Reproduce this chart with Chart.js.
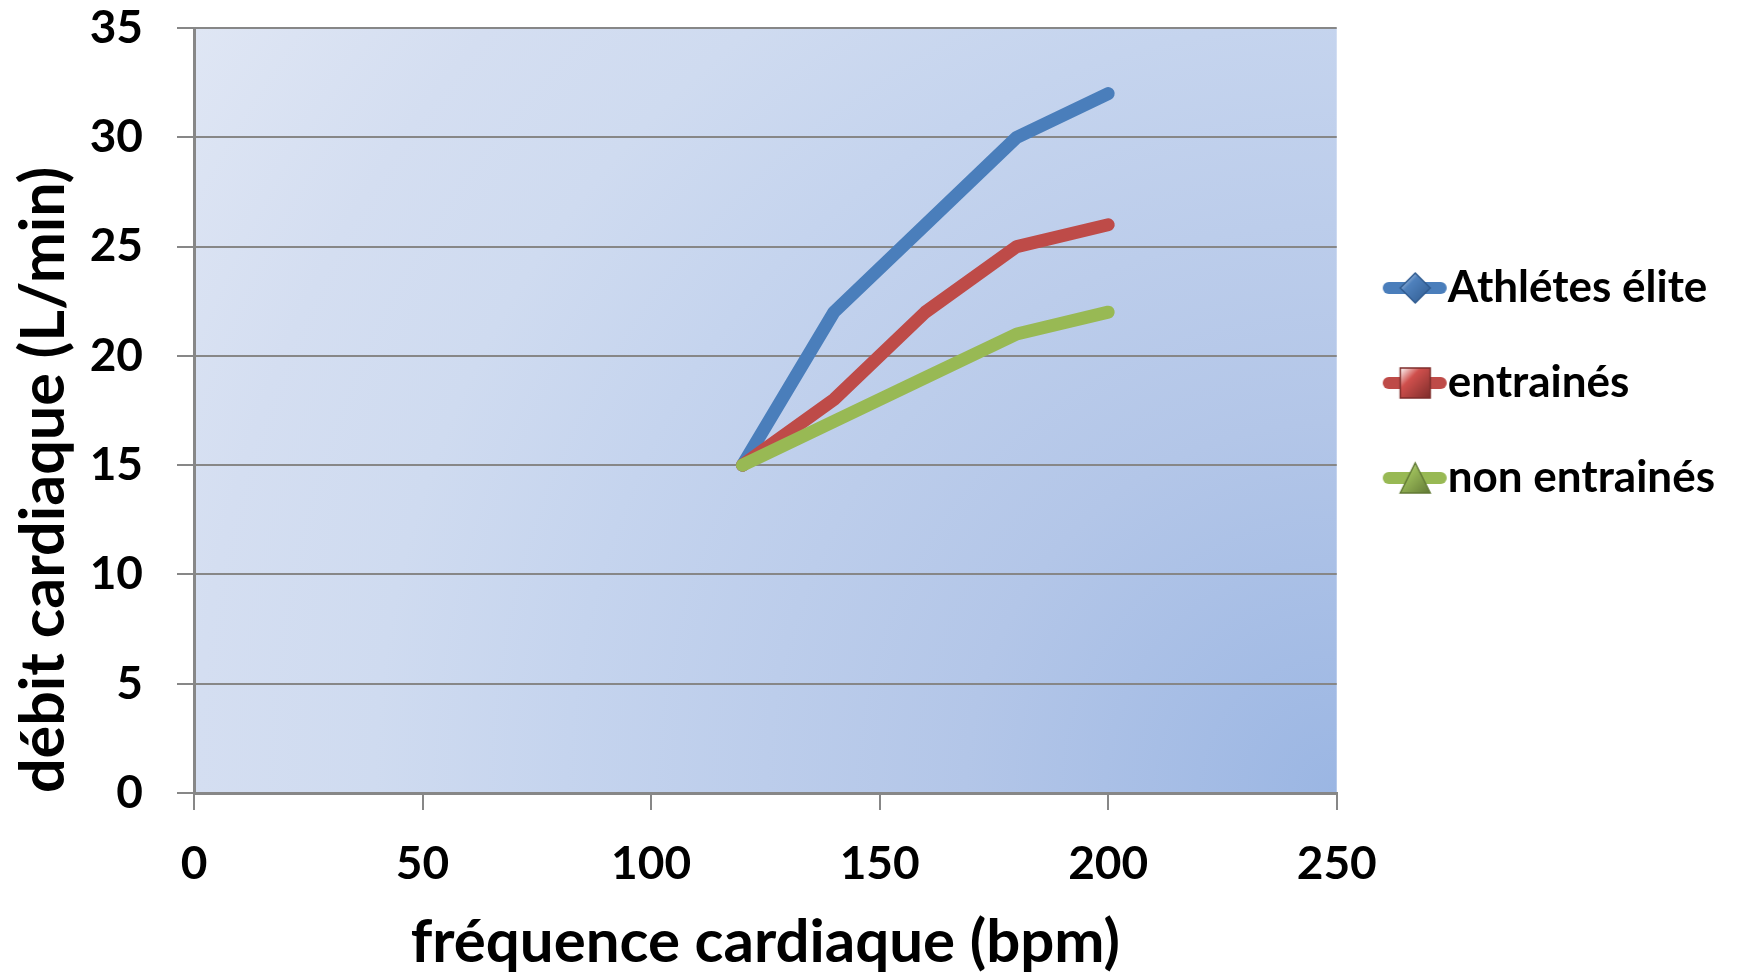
<!DOCTYPE html>
<html lang="fr">
<head>
<meta charset="utf-8">
<title>Débit cardiaque</title>
<script src="https://cdn.jsdelivr.net/npm/chart.js@4.4.1/dist/chart.umd.min.js"></script>
<style>
    html, body { margin: 0; padding: 0; background: #fff; }
    #wrap { position: relative; width: 1740px; height: 974px; }
</style>
</head>
<body>
<div id="wrap"><canvas id="cardiacChart"></canvas></div>
<script>
'use strict';

// ---- data ----
const heartRates      = [120, 140, 160, 180, 200];
const eliteOutput     = [15, 22, 26, 30, 32];
const trainedOutput   = [15, 18, 22, 25, 26];
const untrainedOutput = [15, 17, 19, 21, 22];
const seriesNames     = ['Athlétes élite', 'entrainés', 'non entrainés'];
const xTickValues     = [0, 50, 100, 150, 200, 250];
const yTickValues     = [0, 5, 10, 15, 20, 25, 30, 35];
const xTitle = 'fréquence cardiaque (bpm)';
const yTitle = 'débit cardiaque (L/min)';

// ---- styles ----
const lineColors   = ['#4A7EBB', '#BE4B48', '#98B954'];
const markerFills  = ['#4F81BD', '#D0504D', '#9BBB59'];
const markerEdges  = ['#2F5A8F', '#7E2D2B', '#627A35'];
const markerShapes = ['diamond', 'square', 'triangle'];
const gridGray = '#878787';
const FONT = 'Lato, "Open Sans", sans-serif';

// background of the plot area (radial, darkest in bottom-right corner)
const plotBackground = {
    id: 'plotBackground',
    beforeDraw(chart) {
        const { ctx, chartArea: a } = chart;
        const r = Math.hypot(a.width, a.height);
        const g = ctx.createRadialGradient(a.right, a.bottom, 0, a.right, a.bottom, r);
        g.addColorStop(0,    '#9BB6E3');
        g.addColorStop(0.27, '#B3C6E8');
        g.addColorStop(0.56, '#C5D4EE');
        g.addColorStop(0.70, '#CFDBF0');
        g.addColorStop(0.83, '#D4DEF1');
        g.addColorStop(1,    '#DFE6F4');
        ctx.save();
        ctx.fillStyle = g;
        ctx.fillRect(a.left, a.top, a.width, a.height);
        ctx.restore();
    }
};

// legend sample: line stroke + marker, drawn on a small canvas
function makeSample(i) {
    const W = 82, H = 40, cx = W / 2, cy = H / 2;
    const c = document.createElement('canvas');
    c.width = W; c.height = H;
    const g = c.getContext('2d');
    g.lineCap = 'round';
    g.lineWidth = 12;
    g.strokeStyle = lineColors[i];
    g.beginPath();
    g.moveTo(cx - 24 + 6, cy);
    g.lineTo(cx + 40 - 6, cy);
    g.stroke();

    const mx = cx + 8.5, r = 15;
    const grad = g.createLinearGradient(mx - r, cy - r, mx + r, cy + r);
    grad.addColorStop(0, '#ffffff');
    grad.addColorStop(0.35, markerFills[i]);
    grad.addColorStop(1, markerEdges[i]);
    g.fillStyle = grad;
    g.strokeStyle = markerEdges[i];
    g.lineWidth = 1.5;
    g.beginPath();
    if (markerShapes[i] === 'diamond') {
        g.moveTo(mx, cy - r); g.lineTo(mx + r, cy); g.lineTo(mx, cy + r); g.lineTo(mx - r, cy);
    } else if (markerShapes[i] === 'square') {
        g.rect(mx - r, cy - r, 2 * r, 2 * r);
    } else {
        g.moveTo(mx, cy - r); g.lineTo(mx + r, cy + r); g.lineTo(mx - r, cy + r);
    }
    g.closePath();
    g.fill();
    g.stroke();
    return c;
}

function toPoints(ys) {
    return heartRates.map((x, i) => ({ x, y: ys[i] }));
}

function buildChart() {
    const samples = seriesNames.map((_, i) => makeSample(i));
    const seriesValues = [eliteOutput, trainedOutput, untrainedOutput];

    const datasets = seriesNames.map((name, i) => ({
        label: name,
        data: toPoints(seriesValues[i]),
        borderColor: lineColors[i],
        backgroundColor: lineColors[i],
        borderWidth: 13,
        borderCapStyle: 'round',
        borderJoinStyle: 'round',
        pointRadius: 0,
        pointHoverRadius: 0,
        tension: 0,
        order: seriesNames.length - i   // green drawn on top
    }));

    new Chart(document.getElementById('cardiacChart'), {
        type: 'line',
        data: { datasets },
        plugins: [plotBackground],
        options: {
            responsive: true,
            maintainAspectRatio: false,
            animation: false,
            events: [],
            layout: { padding: { top: 28, right: 15, bottom: 0, left: 0 } },
            plugins: {
                tooltip: { enabled: false },
                legend: {
                    position: 'right',
                    align: 'start',
                    title: { display: true, text: '', padding: { top: 177, bottom: 0 }, font: { size: 10, lineHeight: 1 } },
                    labels: {
                        usePointStyle: true,
                        pointStyleWidth: 38,
                        padding: 51,
                        color: '#000',
                        font: { family: FONT, size: 44, weight: 'bold' },
                        generateLabels: chart => chart.data.datasets.map((ds, i) => ({
                            text: ds.label,
                            pointStyle: samples[i],
                            fillStyle: ds.borderColor,
                            strokeStyle: ds.borderColor,
                            lineWidth: 0,
                            hidden: false,
                            datasetIndex: i,
                            fontColor: '#000'
                        }))
                    }
                }
            },
            scales: {
                x: {
                    type: 'linear',
                    min: xTickValues[0],
                    max: xTickValues[xTickValues.length - 1],
                    afterFit: s => { s.height = 181; },
                    ticks: {
                        stepSize: xTickValues[1] - xTickValues[0],
                        padding: 27,
                        color: '#000',
                        font: { family: FONT, size: 46, weight: 'bold' },
                        maxRotation: 0
                    },
                    grid: { drawOnChartArea: false, drawTicks: true, tickLength: 17, color: gridGray, lineWidth: 2 },
                    border: { color: gridGray, width: 3 },
                    title: {
                        display: true, text: xTitle, color: '#000',
                        padding: { top: 0, bottom: -5 },
                        font: { family: FONT, size: 60, weight: 'bold' }
                    }
                },
                y: {
                    min: yTickValues[0],
                    max: yTickValues[yTickValues.length - 1],
                    afterFit: s => {
                        s.width = 194;
                        // labels sit beside their gridlines; no extra room above/below needed
                        s.paddingTop = 0;
                        s.paddingBottom = 0;
                    },
                    ticks: {
                        stepSize: yTickValues[1] - yTickValues[0],
                        padding: 34,
                        color: '#000',
                        font: { family: FONT, size: 46, weight: 'bold' }
                    },
                    grid: { drawTicks: true, tickLength: 17, color: gridGray, lineWidth: 2 },
                    border: { color: gridGray, width: 3 },
                    title: {
                        display: true, text: yTitle, color: '#000', align: 'start',
                        padding: { top: 8, bottom: 0 },
                        font: { family: FONT, size: 61, weight: 'bold' }
                    }
                }
            }
        }
    });
}

document.addEventListener('DOMContentLoaded', () => {
    const loads = ['bold 44px Lato', 'bold 46px Lato', 'bold 60px Lato'].map(f => document.fonts.load(f).catch(() => null));
    Promise.all(loads).then(buildChart, buildChart);
});
</script>
</body>
</html>
